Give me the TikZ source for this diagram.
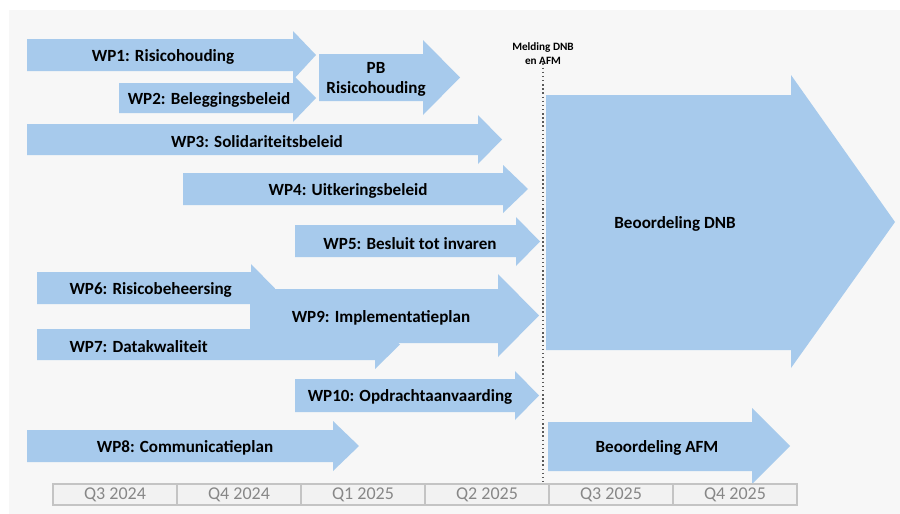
\documentclass[tikz,border=0pt]{standalone}
\usepackage{fontspec}
\setmainfont{Carlito}

\definecolor{wpblue}{RGB}{167,202,236}
\definecolor{achtergrond}{RGB}{247,247,247}
\definecolor{kwartaalvak}{RGB}{242,242,242}
\definecolor{kwartaalrand}{RGB}{196,196,196}
\definecolor{kwartaaltekst}{RGB}{135,135,135}

\tikzset{every picture/.style={line width=0.75pt}}
\tikzset{
  wparrow/.style={fill=wpblue, draw=none},
  wplabel/.style={inner sep=0.75pt, yshift=-1.2pt, font=\fontsize{12.8}{15}\selectfont\bfseries, align=center},
  kwartaal/.style={fill=kwartaalvak, draw=kwartaalrand, line width=1pt},
  kwartaallabel/.style={inner sep=0.75pt, text=kwartaaltekst, font=\fontsize{13.5}{15}\selectfont}
}

\begin{document}
\begin{tikzpicture}[x=0.75pt,y=0.75pt,yscale=-1,xscale=1]
		\useasboundingbox (0,0) rectangle (900,514);
		\fill [white] (0,0) rectangle (900,514);
		%Shape: Rectangle [id:dp2087145530917264] 
		\fill [achtergrond] (9,10) -- (900,10) -- (900,514) -- (9,514) -- cycle ;

		%Shape: Right Arrow [id:dp5520391846203317] 
		\draw [wparrow] (27,39) -- (293,39) -- (293,31) -- (316,55) -- (293,80) -- (293,71) -- (27,71) -- cycle ;
		%Shape: Right Arrow [id:dp0871436620458813] 
		\draw [wparrow] (119,83) -- (293,83) -- (293,75) -- (316,98) -- (293,122) -- (293,113) -- (119,113) -- cycle ;
		%Shape: Right Arrow [id:dp7312690458120954] 
		\draw [wparrow] (319,54) -- (423,54) -- (423,40) -- (460,77.5) -- (423,115) -- (423,101) -- (319,101) -- cycle ;
		%Shape: Right Arrow [id:dp3368240157829012] 
		\draw [wparrow] (27,124) -- (478,124) -- (478,115) -- (502,139.5) -- (478,164) -- (478,155) -- (27,155) -- cycle ;
		%Shape: Right Arrow [id:dp9416702215836671] 
		\draw [wparrow] (183,173) -- (503,173) -- (503,165) -- (528,189) -- (503,213) -- (503,205) -- (183,205) -- cycle ;
		%Shape: Right Arrow [id:dp1957760348216034] 
		\draw [wparrow] (295,225) -- (516,225) -- (516,217) -- (540,241.5) -- (516,266) -- (516,257) -- (295,257) -- cycle ;
		%Shape: Right Arrow [id:dp6603218574920437] 
		\draw [wparrow] (37,272) -- (251,272) -- (251,264) -- (275,288.5) -- (251,313) -- (251,304) -- (37,304) -- cycle ;
		%Shape: Right Arrow [id:dp4480129735512976] 
		\draw [wparrow] (37,329) -- (375,329) -- (375,320) -- (400,344.5) -- (375,369) -- (375,360) -- (37,360) -- cycle ;
		%Shape: Right Arrow [id:dp8872031456602918] 
		\draw [wparrow] (250,289) -- (498,289) -- (498,274) -- (539,315.5) -- (498,357) -- (498,343) -- (250,343) -- cycle ;
		%Shape: Right Arrow [id:dp2741658093370586] 
		\draw [wparrow] (295,379) -- (515,379) -- (515,371) -- (539,395.5) -- (515,420) -- (515,412) -- (295,412) -- cycle ;
		%Shape: Right Arrow [id:dp0653318827745109] 
		\draw [wparrow] (27,430) -- (333,430) -- (333,421) -- (359,446) -- (333,471) -- (333,462) -- (27,462) -- cycle ;
		%Shape: Right Arrow [id:dp5189024376230741] 
		\draw [wparrow] (546,95) -- (791,95) -- (791,75) -- (895,222) -- (791,368) -- (791,350) -- (546,350) -- cycle ;
		%Shape: Right Arrow [id:dp7730915862415398] 
		\draw [wparrow] (548,422) -- (752,422) -- (752,408) -- (790,446) -- (752,484) -- (752,471) -- (548,471) -- cycle ;

		%Shape: Rectangle [id:dp3094821775630125] 
		\draw [kwartaal] (53,484) -- (177,484) -- (177,505) -- (53,505) -- cycle ;
		%Shape: Rectangle [id:dp8146293051726483] 
		\draw [kwartaal] (177,484) -- (301,484) -- (301,505) -- (177,505) -- cycle ;
		%Shape: Rectangle [id:dp1548823960771246] 
		\draw [kwartaal] (301,484) -- (425,484) -- (425,505) -- (301,505) -- cycle ;
		%Shape: Rectangle [id:dp6270915533812409] 
		\draw [kwartaal] (425,484) -- (549,484) -- (549,505) -- (425,505) -- cycle ;
		%Shape: Rectangle [id:dp9921406387415570] 
		\draw [kwartaal] (549,484) -- (673,484) -- (673,505) -- (549,505) -- cycle ;
		%Shape: Rectangle [id:dp4417382096530834] 
		\draw [kwartaal] (673,484) -- (797,484) -- (797,505) -- (673,505) -- cycle ;

		\draw (115,494.5) node [kwartaallabel] (q3a) {Q3 2024};
		\draw (239,494.5) node [kwartaallabel] (q4a) {Q4 2024};
		\draw (363,494.5) node [kwartaallabel] (q1b) {Q1 2025};
		\draw (487,494.5) node [kwartaallabel] (q2b) {Q2 2025};
		\draw (611,494.5) node [kwartaallabel] (q3b) {Q3 2025};
		\draw (735,494.5) node [kwartaallabel] (q4b) {Q4 2025};

		%Melding line
		\draw (543,54) node [inner sep=0.75pt, font=\fontsize{8.4}{10.5}\selectfont\bfseries, align=center] (melding) {Melding DNB\\en AFM};
		\coordinate (meldingvoet) at (543,484);
		\draw [dotted, line width=1.1pt, color={rgb, 255:red, 90; green, 90; blue, 90 }] (melding.south) ++(0,-3) -- (meldingvoet) ;

		\draw (163,55) node [wplabel] (wp1) {WP1: Risicohouding};
		\draw (209,98) node [wplabel] (wp2) {WP2: Beleggingsbeleid};
		\draw (376,78) node [wplabel] (pb) {PB\\Risicohouding};
		\draw (257,139.5) node [wplabel] (wp3) {WP3: Solidariteitsbeleid};
		\draw (348,189) node [wplabel] (wp4) {WP4: Uitkeringsbeleid};
		\draw (410,241.5) node [wplabel] (wp5) {WP5: Besluit tot invaren};
		\draw (68,288.5) node [wplabel, anchor=west] (wp6) {WP6: Risicobeheersing};
		\draw (68,344.5) node [wplabel, anchor=west] (wp7) {WP7: Datakwaliteit};
		\draw (381,316) node [wplabel] (wp9) {WP9: Implementatieplan};
		\draw (410,395.5) node [wplabel] (wp10) {WP10: Opdrachtaanvaarding};
		\draw (185,446) node [wplabel] (wp8) {WP8: Communicatieplan};
		\draw (675,222) node [wplabel] (dnb) {Beoordeling DNB};
		\draw (657,446) node [wplabel] (afm) {Beoordeling AFM};

	\end{tikzpicture}
\end{document}
